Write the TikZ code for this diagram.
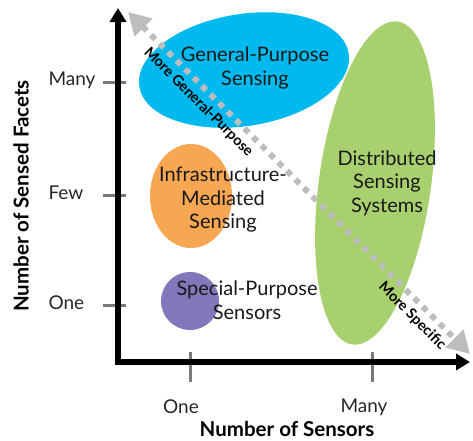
\documentclass[tikz,border=0pt]{standalone}
\usepackage{fontspec}
\setmainfont{Lato}
\usetikzlibrary{arrows.meta,shapes.geometric}
\definecolor{gpblue}{HTML}{00B9EF}
\definecolor{dsgreen}{HTML}{A9D06E}
\definecolor{imorange}{HTML}{F7A652}
\definecolor{sppurple}{HTML}{8078BB}
\definecolor{tickgray}{HTML}{7A7A7A}
\definecolor{diaggray}{HTML}{BDBDBD}
\tikzset{
  blob/.style={ellipse,inner sep=0pt},
  lbl/.style={font=\fontsize{20}{23.5}\selectfont,align=center,text=black!90},
  ticklbl/.style={font=\fontsize{19}{21}\selectfont,text=black!85},
  axis/.style={line width=6pt,-{Triangle[length=14pt,width=16pt]}},
  tick/.style={line width=3pt,draw=tickgray},
  diag/.style={line width=6pt,draw=diaggray,dash pattern=on 6pt off 6pt,{Triangle[length=22pt,width=24pt,fill=diaggray]}-{Triangle[length=22pt,width=24pt,fill=diaggray]}},
  difflbl/.style={font=\bfseries\fontsize{14.5}{16}\selectfont,sloped,below=1pt},
  axlbl/.style={font=\bfseries\fontsize{20.5}{22}\selectfont,inner sep=1pt}
}
\begin{document}
\begin{tikzpicture}[x=1pt,y=-1pt]
\useasboundingbox (0,0) rectangle (473,440);
% blobs
\node[blob,fill=gpblue,minimum width=212pt,minimum height=112pt,rotate=9] (gp) at (244,70) {};
\node[blob,fill=dsgreen,minimum width=112pt,minimum height=326pt,rotate=-8] (ds) at (375,183) {};
\node[blob,fill=imorange,minimum width=82pt,minimum height=104pt] (im) at (191,196) {};
\node[circle,fill=sppurple,minimum size=58pt,inner sep=0pt] (sp) at (190,301) {};
% texts
\node[lbl] (gpt) at (255,68) {General-Purpose\\Sensing};
\node[lbl] (imt) at (223,200) {Infrastructure-\\Mediated\\Sensing};
\node[lbl] (spt) at (247,300) {Special-Purpose\\Sensors};
\node[lbl] (dst) at (387,183) {Distributed\\Sensing\\Systems};
% ticks
\coordinate (yt1a) at (103,82); \coordinate (yt1b) at (126,82);
\coordinate (yt2a) at (103,195); \coordinate (yt2b) at (126,195);
\coordinate (yt3a) at (103,305); \coordinate (yt3b) at (126,305);
\coordinate (xt1a) at (190,352); \coordinate (xt1b) at (190,382);
\coordinate (xt2a) at (372,352); \coordinate (xt2b) at (372,382);
\draw[tick] (yt1a) -- (yt1b);
\draw[tick] (yt2a) -- (yt2b);
\draw[tick] (yt3a) -- (yt3b);
\draw[tick] (xt1a) -- (xt1b);
\draw[tick] (xt2a) -- (xt2b);
% axes
\coordinate (org) at (118,362);
\coordinate (ytop) at (118,8);
\coordinate (xend) at (470,362);
\draw[axis] ([yshift=-3pt]org) -- (ytop);
\draw[axis] ([xshift=-3pt]org) -- (xend);
% tick labels
\node[ticklbl,anchor=west] (lmany) at (45,80) {Many};
\node[ticklbl,anchor=west] (lfew) at (45,193) {Few};
\node[ticklbl,anchor=west] (lone) at (45,303) {One};
\node[ticklbl] (xone) at (181,407) {One};
\node[ticklbl] (xmany) at (364,407) {Many};
\node[axlbl] (xlab) at (287,429) {Number of Sensors};
\node[axlbl,rotate=90] (ylab) at (21,196) {Number of Sensed Facets};
% diagonal
\coordinate (dA) at (128,12);
\coordinate (dB) at (470,354);
\draw[diag] (dA) -- (dB)
  node[difflbl,pos=0.235] (mgp) {More General-Purpose}
  node[difflbl,pos=0.86] (msp) {More Specific};
\end{tikzpicture}
\end{document}
